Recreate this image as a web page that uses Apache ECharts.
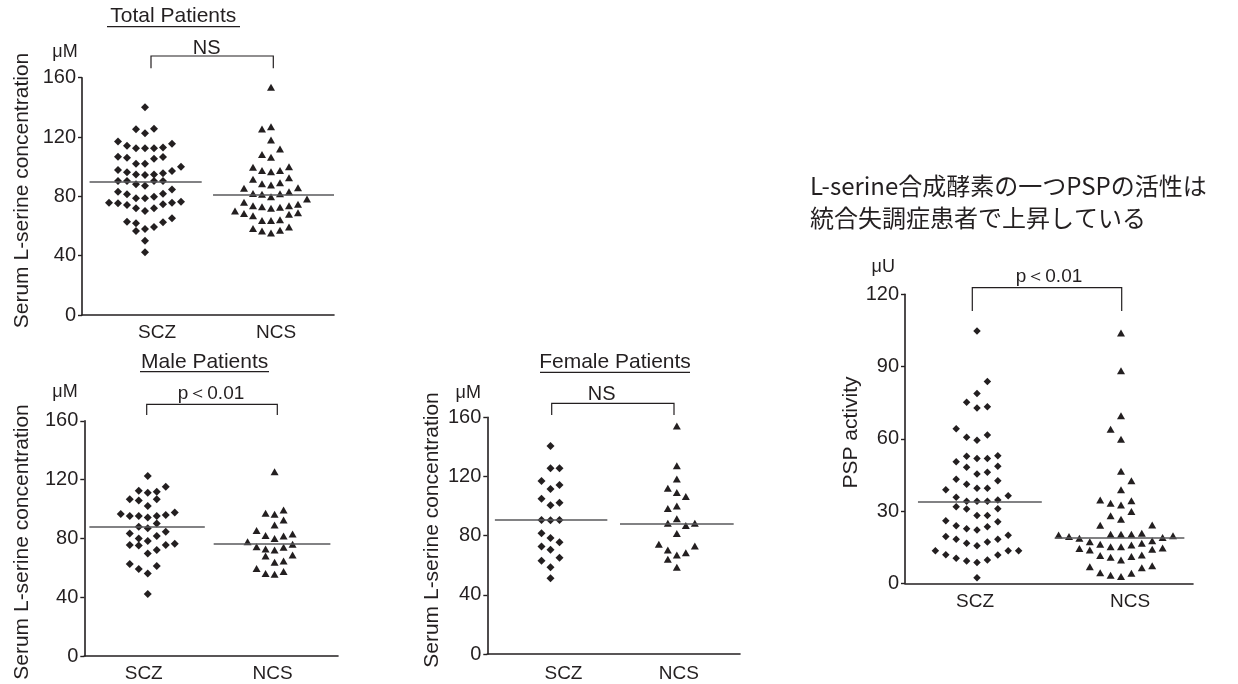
<!DOCTYPE html>
<html>
<head>
<meta charset="utf-8">
<script src="https://cdn.jsdelivr.net/npm/echarts@6/dist/echarts.min.js"></script>
<style>
html, body { margin: 0; padding: 0; background: #fff; }
#main { width: 1238px; height: 684px; }
</style>
</head>
<body>
<div id="main"></div>
<script>
var groups = ['SCZ', 'NCS'];
var serumTicks = [0, 40, 80, 120, 160];
var pspTicks = [0, 30, 60, 90, 120];

// each point: [column in the swarm, value]
var totalScz = [
  [0,140.0],
  [-1,125.2],[1,125.6],[0,122.5],
  [-3,116.9],[3,115.5],[-2,114.2],[-1,112.4],[0,112.4],[1,112.4],[2,113.0],
  [-3,106.7],[-2,106.1],[2,106.5],[1,105.4],[-1,102.0],[0,102.0],
  [4,100.0],[3,97.1],[-3,97.8],[-2,96.2],[-1,94.8],[0,94.4],[1,94.8],[2,95.5],
  [-3,90.3],[-2,90.3],[-1,88.1],[0,87.2],[1,90.3],[2,90.3],
  [3,84.7],[-3,83.1],[-2,81.4],[-1,78.7],[0,78.7],[1,79.8],[2,81.8],
  [-4,75.7],[-3,75.3],[-2,74.2],[-1,71.9],[0,70.1],[1,71.9],[2,74.6],[3,75.7],[4,76.4],
  [-2,62.9],[-1,61.8],[-1,56.6],[0,58.0],[1,59.3],[2,62.5],[3,65.2],
  [0,50.1],
  [0,42.3]
];
var totalNcs = [
  [0,153.5],
  [-1,125.4],[0,127.0],
  [0,118.0],
  [1,111.9],
  [-1,108.3],[0,106.3],
  [-2,99.6],[-1,97.5],[0,96.6],[1,97.5],[2,100.0],
  [-2,91.5],[2,92.6],[-1,88.5],[0,87.6],[1,89.2],
  [-3,85.4],[3,85.8],[-2,82.0],[-1,81.4],[0,79.8],[1,81.8],[2,83.1],
  [4,78.2],[-3,76.0],[3,74.6],[-2,73.7],[-1,73.0],[0,71.9],[1,72.6],[2,73.7],
  [-4,70.1],[-3,68.5],[-2,67.0],[3,69.0],[2,67.9],[-1,63.8],[0,63.8],[1,64.3],
  [-2,58.4],[-1,56.6],[0,55.3],[1,57.1],[2,59.3]
];
var maleScz = [
  [0,122.4],
  [2,115.2],
  [-1,112.5],[0,111.1],[1,111.8],
  [-2,106.6],[-1,105.7],[1,106.6],
  [0,102.0],
  [-3,96.6],[3,97.7],[-2,95.2],[-1,95.2],[0,94.3],[1,95.2],[2,95.9],
  [1,90.2],
  [-1,88.0],[0,86.9],
  [2,84.6],[-2,83.4],
  [1,81.6],[-1,80.0],[0,78.2],
  [-2,75.5],[-1,75.1],[3,76.4],[2,75.5],[1,72.1],
  [0,69.8],
  [-2,62.6],[-1,59.2],[0,56.2],[1,61.2],
  [0,42.2]
];
var maleNcs = [
  [0,125.4],
  [-1,97.1],[0,96.4],[1,99.3],
  [1,92.5],[0,89.1],
  [-2,85.3],[-1,81.9],[0,80.0],[1,81.6],[2,83.0],
  [-3,77.8],[-2,74.4],[-1,72.8],[0,72.1],[1,73.9],[2,76.0],
  [-1,68.0],[2,68.7],
  [0,63.7],[1,64.6],
  [-2,59.6],[-1,56.2],[0,55.6],[1,57.4]
];
var femaleScz = [
  [0,140.6],
  [0,125.5],[1,125.5],
  [-1,117.0],[1,114.3],[0,111.6],
  [-1,105.0],[1,102.3],[0,100.5],
  [-1,90.6],[0,90.4],[1,90.6],
  [-1,81.6],[1,75.5],[0,78.4],
  [-1,72.6],[0,70.5],
  [-1,63.1],[1,65.1],[0,58.6],
  [0,51.2]
];
var femaleNcs = [
  [0,154.2],
  [0,127.3],
  [0,118.3],
  [-1,112.0],[0,109.1],[1,106.4],
  [-1,98.3],[0,100.1],
  [0,91.5],[-1,88.3],[1,86.8],[2,88.3],
  [0,81.4],
  [-2,74.2],[-1,70.3],[2,73.0],[1,68.5],[0,66.9],
  [-1,64.0],[0,58.6]
];
var pspScz = [
  [0,104.8],
  [1,83.8],
  [0,78.8],
  [-1,75.2],[0,72.8],[1,73.3],
  [-2,64.2],[-1,60.6],[0,59.4],[1,61.6],
  [-2,50.5],[-1,52.8],[0,51.8],[1,51.8],[2,53.0],
  [-1,48.2],[2,48.6],[0,45.4],[1,46.1],
  [-2,43.2],[2,42.6],[-1,41.1],[0,39.5],[1,39.5],
  [-3,38.8],[3,36.4],
  [-2,35.7],[-1,34.1],[0,34.1],[1,34.1],[2,34.6],
  [-2,31.8],[-1,30.9],[2,31.0],
  [0,28.2],[1,28.2],
  [-3,26.0],[2,25.6],[-2,23.9],[1,23.5],[-1,22.7],[0,22.1],
  [-3,19.4],[3,19.9],[-2,18.3],[2,18.3],[-1,16.6],[1,17.2],[0,15.6],
  [-4,13.5],[-3,11.9],[3,13.5],[4,13.5],[2,11.8],[-2,10.4],[1,9.7],[-1,9.3],[0,8.6],
  [0,2.3]
];
var pspNcs = [
  [0,103.9],
  [0,88.3],
  [0,69.6],
  [-1,64.0],[0,59.8],
  [0,46.5],
  [1,42.6],
  [0,38.8],
  [-2,34.6],[-1,33.2],[0,32.5],[1,34.3],
  [-1,28.0],[1,29.8],[0,26.6],
  [-2,24.1],[3,24.2],
  [-6,20.1],[-5,19.4],[-4,18.7],[-1,20.4],[0,20.4],[1,20.4],[2,20.8],[4,19.0],[5,19.7],
  [-3,17.3],[3,17.7],[-4,14.5],[-3,13.8],[-2,16.2],[-1,15.2],[0,15.2],[1,15.9],[2,16.6],[3,14.1],[4,14.7],
  [-2,11.5],[-1,10.8],[0,9.7],[1,11.1],[2,11.8],
  [-3,6.9],[3,7.3],[-2,4.4],[2,6.5],[-1,3.3],[1,4.2],[0,2.8]
];

var totalMean = [89.9, 81.3];
var maleMean = [88.0, 76.4];
var femaleMean = [91.0, 88.1];
var pspMean = [33.9, 19.1];

var ink = '#231f20';
var font = "'Liberation Sans', Arial, sans-serif";

var panels = [
  { grid: {left: 82, top: 77.7, width: 252, height: 237.3}, ticks: serumTicks,
    scz: totalScz, ncs: totalNcs, mean: totalMean, step: 9, dia: 8, tri: [8, 7],
    lines: [[-0.44, 0.45], [0.54, 1.5]], shift: [12, 5], labelMargin: 8 },
  { grid: {left: 84.3, top: 420.8, width: 253.7, height: 235.2}, ticks: serumTicks,
    scz: maleScz, ncs: maleNcs, mean: maleMean, step: 9, dia: 8, tri: [8, 7],
    lines: [[-0.46, 0.45], [0.52, 1.44]], shift: [-4, -2], labelMargin: 8 },
  { grid: {left: 487.3, top: 417.3, width: 252.7, height: 236.7}, ticks: serumTicks,
    scz: femaleScz, ncs: femaleNcs, mean: femaleMean, step: 9, dia: 8, tri: [8, 7],
    lines: [[-0.44, 0.45], [0.55, 1.45]], shift: [13, 2], labelMargin: 10 },
  { grid: {left: 905, top: 294.3, width: 288, height: 289}, ticks: pspTicks,
    scz: pspScz, ncs: pspNcs, mean: pspMean, step: 10.4, dia: 7.5, tri: [8, 7],
    lines: [[-0.41, 0.45], [0.54, 1.44]], shift: [-2, 9], labelMargin: 9 }
];

var grids = [], xAxes = [], yAxes = [], series = [];

panels.forEach(function (p, i) {
  grids.push(p.grid);
  var rich = {};
  p.shift.forEach(function (dx, k) {
    rich['c' + k] = {
      fontSize: 19, fontFamily: font, color: ink,
      padding: dx >= 0 ? [0, 0, 0, 2 * dx] : [0, -2 * dx, 0, 0]
    };
  });
  xAxes.push({
    type: 'value', gridIndex: i, min: -0.5, max: 1.5,
    axisLine: { onZero: false, lineStyle: { color: ink, width: 1.6 } },
    axisTick: { show: false },
    splitLine: { show: false },
    axisLabel: {
      customValues: [0, 1],
      margin: p.labelMargin,
      formatter: function (v) {
        var k = Math.round(v);
        return '{c' + k + '|' + groups[k] + '}';
      },
      rich: rich
    }
  });
  yAxes.push({
    type: 'value', gridIndex: i,
    min: p.ticks[0], max: p.ticks[p.ticks.length - 1], interval: p.ticks[1] - p.ticks[0],
    axisLine: { show: true, onZero: false, lineStyle: { color: ink, width: 1.6 } },
    axisTick: { show: true, length: 4, lineStyle: { color: ink, width: 1.4 } },
    splitLine: { show: false },
    axisLabel: { fontSize: 20, fontFamily: font, color: ink, margin: 6 }
  });
  [p.scz, p.ncs].forEach(function (pts, g) {
    series.push({
      type: 'scatter', xAxisIndex: i, yAxisIndex: i,
      symbol: g === 0 ? 'diamond' : 'triangle',
      symbolSize: g === 0 ? p.dia : p.tri,
      itemStyle: { color: ink, opacity: 1 },
      silent: true,
      data: pts.map(function (d) {
        return { value: [g, d[1]], symbolOffset: [d[0] * p.step, 0] };
      }),
      markLine: {
        silent: true, symbol: ['none', 'none'], animation: false,
        label: { show: false },
        lineStyle: { color: '#58595b', width: 1.6, type: 'solid' },
        data: [[{ coord: [p.lines[g][0], p.mean[g]] }, { coord: [p.lines[g][1], p.mean[g]] }]]
      }
    });
  });
});

function txt(x, y, s, size, extra) {
  var o = { type: 'text', x: x, y: y, silent: true,
    style: { text: s, fill: ink, font: size + 'px ' + font, align: 'center', verticalAlign: 'middle' } };
  if (extra) { for (var k in extra) o[k] = extra[k]; }
  return o;
}
function hline(x1, x2, y) {
  return { type: 'line', silent: true, shape: { x1: x1, y1: y, x2: x2, y2: y }, style: { stroke: ink, lineWidth: 1.2 } };
}
function bracket(x1, x2, top, bottom) {
  return { type: 'polyline', silent: true, shape: { points: [[x1, bottom], [x1, top], [x2, top], [x2, bottom]] },
    style: { stroke: ink, lineWidth: 1.2, fill: null } };
}

var graphics = [
  txt(173.3, 16.5, 'Total Patients', 21), hline(107, 240, 26.7),
  txt(204.7, 362.5, 'Male Patients', 21), hline(140, 269, 371.7),
  txt(615, 362.5, 'Female Patients', 21), hline(540, 690, 372.3),

  txt(22, 190.5, 'Serum L-serine concentration', 21, { rotation: Math.PI / 2 }),
  txt(22.5, 542, 'Serum L-serine concentration', 21, { rotation: Math.PI / 2 }),
  txt(432.5, 530, 'Serum L-serine concentration', 21, { rotation: Math.PI / 2 }),
  txt(851.7, 432.5, 'PSP activity', 21, { rotation: Math.PI / 2 }),

  txt(65, 51.7, 'μM', 18), txt(65, 391.7, 'μM', 18), txt(468.3, 393.3, 'μM', 18), txt(883.3, 266.7, 'μU', 18),

  bracket(151, 273.3, 56, 68.3), txt(206.7, 48, 'NS', 20),
  bracket(146.7, 277.3, 404.3, 415), txt(211, 394, 'p＜0.01', 19),
  bracket(551.7, 674, 403.3, 415), txt(601.7, 394.5, 'NS', 20),
  bracket(972.3, 1121.7, 287.7, 311), txt(1049, 276.7, 'p＜0.01', 19),

  { type: 'text', left: 810, top: 170, silent: true,
    style: { text: 'L-serine合成酵素の一つPSPの活性は\n統合失調症患者で上昇している', fill: ink,
      font: "24px 'Noto Sans CJK JP', sans-serif", lineHeight: 32 } }
];

var chart = echarts.init(document.getElementById('main'));
chart.setOption({
  backgroundColor: '#ffffff',
  animation: false,
  grid: grids,
  xAxis: xAxes,
  yAxis: yAxes,
  series: series,
  graphic: graphics
});
</script>
</body>
</html>
